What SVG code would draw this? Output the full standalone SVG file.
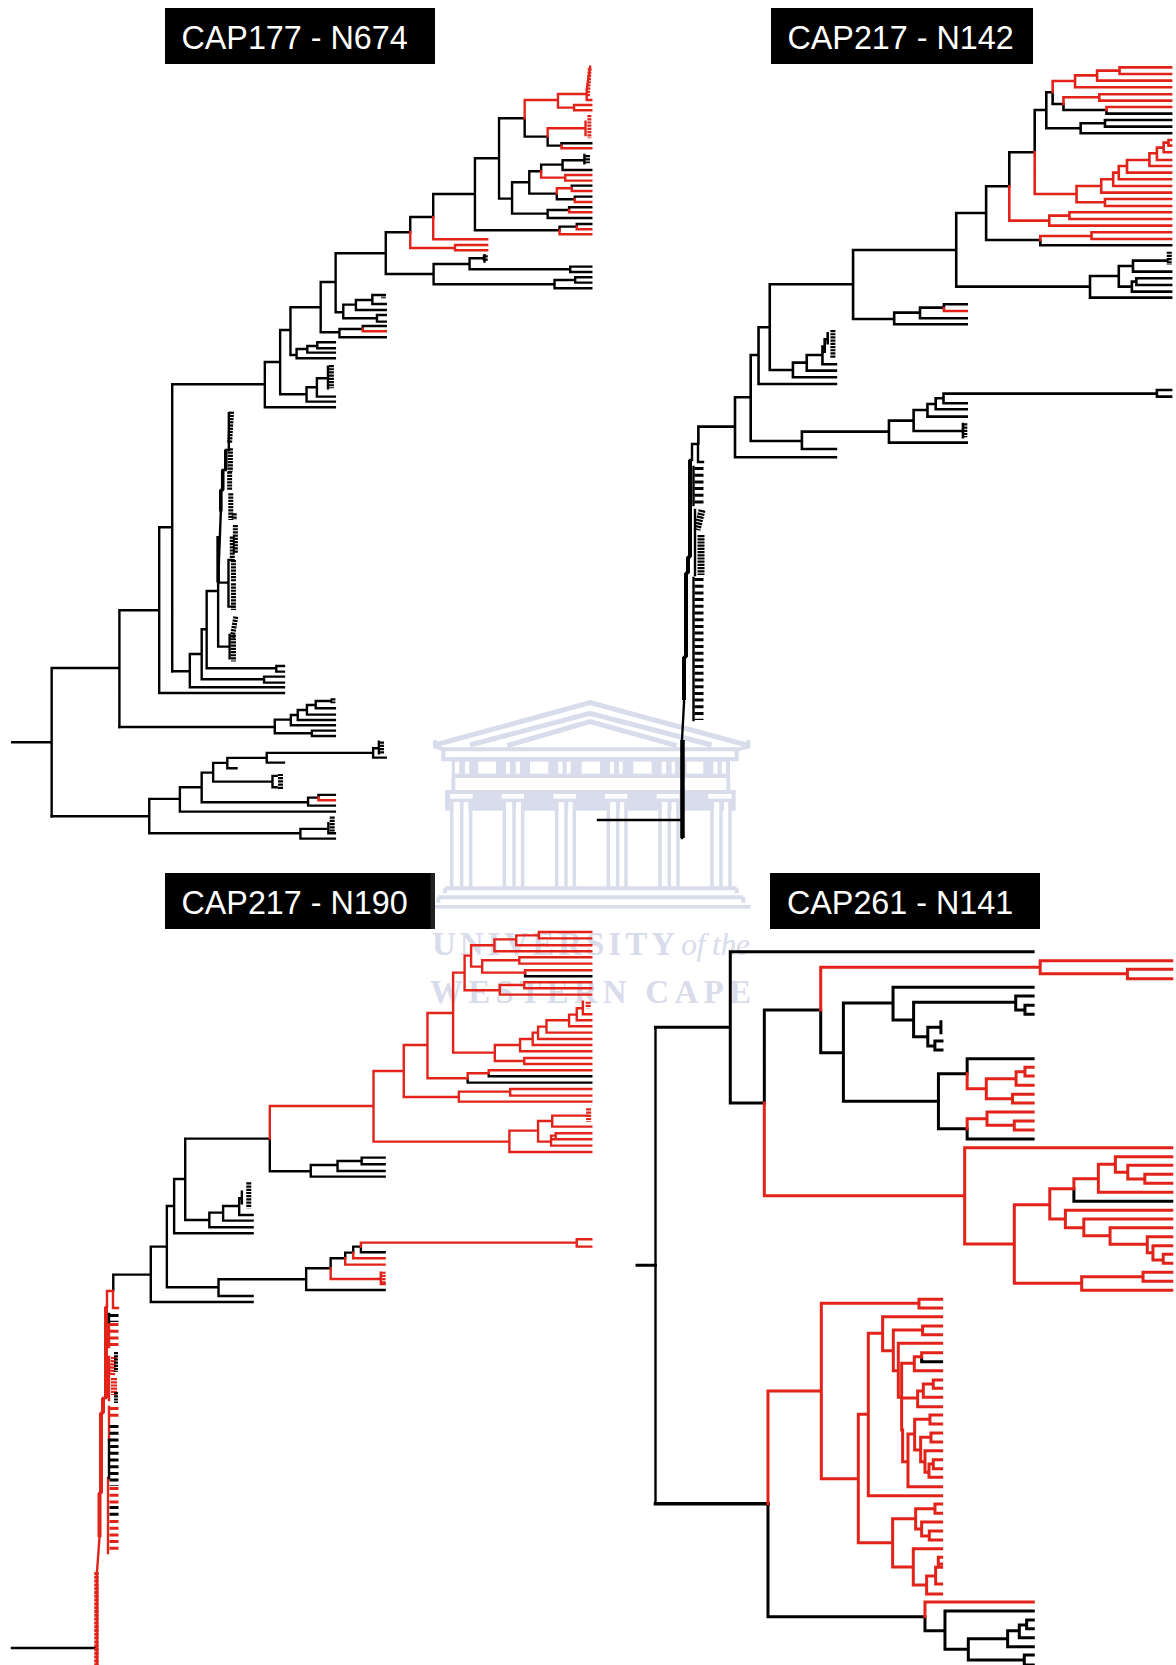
<svg xmlns="http://www.w3.org/2000/svg" width="1176" height="1665" viewBox="0 0 1176 1665">
<style>
path{fill:none;stroke-linecap:square;stroke-linejoin:miter;vector-effect:non-scaling-stroke}
.k{stroke:#000;stroke-width:2.4}
.r{stroke:#e2231a;stroke-width:2.4}
.kb{stroke:#000;stroke-width:3}
.rb{stroke:#e2231a;stroke-width:3}
.kt{stroke:#000;stroke-width:3.6;stroke-linecap:butt}
.rt{stroke:#e2231a;stroke-width:3.6;stroke-linecap:butt}
.kc{stroke:#000;stroke-width:5;stroke-dasharray:2.2 1;stroke-linecap:butt}
.rc{stroke:#e2231a;stroke-width:5;stroke-dasharray:2.2 1;stroke-linecap:butt}
.kd{stroke:#000;stroke-width:9;stroke-dasharray:3 3.7;stroke-linecap:butt}
.rd{stroke:#e2231a;stroke-width:9;stroke-dasharray:3 3.7;stroke-linecap:butt}
.box{fill:#000}
.lab{font-family:"Liberation Sans",Arial,sans-serif;font-size:32.300px;fill:#fff}
.wm{fill:#d9dcea}
.wl{stroke:#d9dcea;stroke-width:4;stroke-linecap:butt}
.wt{font-family:"Liberation Serif","Times New Roman",serif;font-weight:bold;font-size:33px;fill:#d9dcea}
.wi{font-family:"Liberation Serif","Times New Roman",serif;font-style:italic;font-size:32px;fill:#d9dcea}
</style>
<rect width="1176" height="1665" fill="#fff"/>

<g id="watermark">
<g transform="translate(420 680) scale(.3333)">
<path class="wl" style="stroke-width:5" d="M45 195L510 68L980 195M150 195L510 100L875 195M262 197L510 125L770 197"/>
<path class="wl" style="stroke-width:4" d="M45 180V200L70 208H955L985 200V180M70 212V238H950V212"/>
<rect class="wm" x="95" y="232" width="835" height="62"/>
<g fill="#fff">
<rect x="175" y="245" width="53" height="36"/><rect x="330" y="245" width="55" height="36"/><rect x="485" y="245" width="55" height="36"/><rect x="640" y="245" width="55" height="36"/><rect x="800" y="245" width="50" height="36"/>
<rect x="105" y="245" width="13" height="36"/><rect x="135" y="245" width="13" height="36"/><rect x="258" y="245" width="12" height="36"/><rect x="287" y="245" width="13" height="36"/><rect x="415" y="245" width="13" height="36"/><rect x="440" y="245" width="12" height="36"/><rect x="570" y="245" width="12" height="36"/><rect x="597" y="245" width="11" height="36"/><rect x="725" y="245" width="13" height="36"/><rect x="755" y="245" width="10" height="36"/><rect x="880" y="245" width="13" height="36"/><rect x="905" y="245" width="13" height="36"/>
</g>
<path class="wl" d="M100 294V330M925 294V330"/>
<rect class="wm" x="75" y="330" width="872" height="62"/>
<g fill="#fff">
<rect x="90" y="342" width="68" height="14"/><rect x="245" y="342" width="67" height="14"/><rect x="400" y="342" width="68" height="14"/><rect x="555" y="342" width="67" height="14"/><rect x="710" y="342" width="68" height="14"/><rect x="865" y="342" width="70" height="14"/>
<rect x="100" y="366" width="20" height="30"/><rect x="130" y="366" width="15" height="30"/><rect x="258" y="366" width="20" height="30"/><rect x="288" y="366" width="15" height="30"/><rect x="415" y="366" width="20" height="30"/><rect x="445" y="366" width="15" height="30"/><rect x="570" y="366" width="20" height="30"/><rect x="600" y="366" width="15" height="30"/><rect x="725" y="366" width="20" height="30"/><rect x="755" y="366" width="15" height="30"/><rect x="882" y="366" width="20" height="30"/><rect x="912" y="366" width="15" height="30"/>
</g>
<path class="wl" style="stroke-width:3.500" d="M95 360V620M125 360V620M152 360V620M253 360V620M282 360V620M308 360V620M410 360V620M438 360V620M463 360V620M565 360V620M593 360V620M618 360V620M720 360V620M748 360V620M774 360V620M876 360V620M903 360V620M930 360V620"/>
<path class="wl" d="M75 625H950M75 625V640M950 625V640M55 652H970M55 652V668M970 652V668"/>
<path class="wl" style="stroke-width:3.500" d="M40 680H992"/>
</g>
<text class="wt" x="432" y="955" textLength="243" lengthAdjust="spacing">UNIVERSITY</text>
<text class="wi" x="681" y="955" textLength="69" lengthAdjust="spacing">of the</text>
<text class="wt" x="430" y="1003" textLength="321" lengthAdjust="spacing">WESTERN CAPE</text>
</g>

<g id="connectors">
<g id="tree-cap177-n674" transform="scale(.3827 .3333)">
<path class="k" d="M32 2227H135M135 2004V2449M135 2004H312M312 1831V2181M312 1831H416M416 1582V2079H742M416 1582H450M450 1153V2014M450 1153H692M692 1086V1222H875M692 1086H732M732 990V1183H801M801 1162V1205H875M801 1162H828M828 1135V1190H875M828 1135H857M857 1100V1165M732 990H759M759 922V1065H775M775 1047V1075H875M775 1047H803M803 1038V1058H875M803 1038H829M829 1027V1045H875M829 1027H875M759 922H838M838 846V997H887M887 987V1012H1008M887 987H948M948 978V986M948 978H1008M838 846H877M877 760V937H897M897 914V955H985M985 945V965H1008M985 945H1008M897 914H930M930 900V930H1008M930 900H973M973 885V912H1008M973 885H1005M877 760H1008M1008 697V822H1133M1133 792V853H1449M1449 840V865H1545M1449 840H1503M1503 832V848H1545M1503 832H1545M1133 792H1227M1227 775V808H1490M1490 800V816H1545M1490 800H1545M1227 775H1266M1266 766V785M1008 697H1072M1072 651V697M1072 651H1132M1132 582V652M1132 582H1241M1241 475V691H1462M1462 680V691M1462 680H1507M1507 672V680M1507 672H1545M1241 475H1304M1304 355V596H1338M1338 547V641H1431M1431 630V654H1545M1431 630H1487M1487 622V630M1487 622H1545M1338 547H1383M1383 514V581H1455M1455 581V598H1502M1502 590V598M1502 590H1545M1494 557V565M1494 557H1545M1383 514H1414M1414 494V514M1414 494H1470M1470 481V510H1545M1470 481H1527M1527 465V490M1304 355H1371V410H1431V437H1467M1467 430V437M1467 430H1545"/>
<path class="r" d="M948 986V994H1008M1072 697V744H1189M1189 735V751H1273M1189 735H1273M1132 652V718H1273M1462 691V703H1545M1507 680V688H1545M1487 630V637H1545M1455 565V581M1455 565H1494M1494 565V573H1545M1502 598V606H1545M1414 514V533H1477M1477 525V542H1545M1477 525H1545M1467 437V445H1545M1371 355V300H1458M1458 282V323H1500M1500 315V331H1545M1500 315H1545M1458 282H1533M1533 270V300H1545M1533 270L1542 200M1431 410V385H1530M1530 365V405"/>
<path class="rc" style="stroke-width:4" d="M1541 205L1536 290M1540 345V415"/>
<path class="k" d="M450 2014H496M496 1962V2062H742M496 1962H527M527 1888V2038H690M690 2030V2048H742M690 2030H742M527 1888H540M540 1773V2005H722M722 1998V2015H742M722 1998H742M540 1773H570M570 1748V1940H600M600 1905V1975M570 1748H597M597 1680V1820H612M597 1680H605M570 1748L577 1535V1470H582V1410H590V1350H598V1240M135 2449H390M390 2397V2500H785M785 2487V2516H875M785 2487H858M858 2470V2500H875M390 2397H470M470 2362V2435H875M470 2362H527M527 2318V2407H805M805 2393V2417H875M805 2393H832M832 2385V2393M832 2385H875M527 2318H557M557 2289V2345H712M712 2328V2362H723M712 2328H723M557 2289H594M594 2274V2305H618M594 2274H697M697 2259V2288H742M697 2259H975M975 2245V2273H1008M975 2245H990M990 2225V2260M312 2181H718M718 2159V2200H815M815 2192V2208H875M815 2192H875M718 2159H760M760 2145V2176H875M760 2145H778M778 2130V2160H875M778 2130H802M802 2115V2144H875M802 2115H825M825 2103V2125H875M825 2103H865"/>
<path class="r" d="M832 2393V2401H875"/>
<path class="kt" d="M570 1608V1748M577 1470V1535M582 1410V1470M590 1350V1410"/>
<path class="kc" d="M605 1235L600 1330M602 1345V1415M600 1415V1470M603 1480V1560M612 1540V1560M615 1575V1660M607 1610V1680M610 1680V1745M610 1750V1830M616 1850L606 1920M610 1905V1985M866 1095V1165M733 2322V2370M868 2450V2500M997 2225V2262M870 2095V2110M1268 766V785M1535 465V490M1002 882V895"/>
</g>

<g id="tree-cap217-n142" transform="translate(590 0) scale(.3737 .3333)">
<path class="k" style="stroke-width:2.600" d="M290 1280V1330M290 1280H388M388 1192V1372H658M388 1192H430M430 1065V1323H567M567 1295V1347H658M567 1295H800M800 1262V1328H1008M800 1262H866M866 1230V1293H998M998 1272V1312M866 1230H903M903 1212V1250H1008M903 1212H925M925 1195V1228H1008M925 1195H946M946 1181V1210H1008M946 1181H1517M1517 1170V1190H1555M1517 1170H1555M430 1065H451M451 982V1152H658M451 982H481M481 853V1110H543M543 1088V1132H658M543 1088H580M580 1065V1112H658M580 1065H622M622 1040V1093H658M622 1040H628M628 1018V1055M628 1018H636M636 1000V1030M481 853H704M704 750V957H814M814 938V973H1008M814 938H883M883 923V955H1008M883 923H947M947 913V925M947 913H1008M704 750H980M980 639V860H1338M1338 828V893H1555M1338 828H1415M1415 798V860H1450M1450 845V875H1555M1450 845H1462M1462 835V855H1555M1462 835H1555M1415 798H1453M1453 782V815H1555M1453 782H1545M980 639H1060M1060 559V720H1205M1205 720V736H1555M1060 559H1122M1122 457V559M1122 457H1190M1190 330V457M1190 330H1221M1221 277V385H1313M1313 370V400H1555M1313 370H1378M1378 360V380H1555M1378 360H1555M1221 277H1238V312H1267V330H1382M1382 330V341H1555"/>
<path class="r" style="stroke-width:2.600" d="M947 925V933H1008M1205 720V708H1342M1342 697V717H1555M1342 697H1555M1122 559V662H1229M1229 647V677H1555M1229 647H1283M1283 637V657H1555M1283 637H1555M1190 457V582H1302M1302 558V607H1378M1378 597V618H1555M1378 597H1555M1302 558H1368M1368 538V578H1555M1368 538H1400M1400 518V558H1555M1400 518H1415M1415 498V538H1555M1415 498H1437M1437 480V518H1555M1437 480H1497M1497 460V498H1555M1497 460H1517M1517 443V480H1555M1517 443H1535M1535 428V457H1555M1535 428H1548M1548 420V437H1555M1548 420H1555M1382 330V321H1555M1267 312V292H1363M1363 283V302H1555M1363 283H1555M1238 277V243H1298M1298 226V262H1555M1298 226H1357M1357 212V242H1555M1357 212H1417M1417 202V222H1555M1417 202H1555"/>
<path class="kc" d="M650 990V1075M1550 755V795M1003 1270V1312"/>
</g>
<g id="spine-cap217-n142">
<path class="k" d="M598 820H681M692 444H698M698 444V462H703M692 444V460L690 460V557L688 557V573L686 573V657L684 657V703L682 740V838"/>
<path class="kt" style="stroke-width:4" d="M690 460V557M688 557V573M686 573V657M684 657V700"/>
<path class="kt" style="stroke-width:4.500" d="M682.500 740V838"/>
<path class="kd" d="M699 467V505M699 578V720"/>
<path class="kc" style="stroke-width:7" d="M702 510L697 530M701 535V575"/>
<path class="k" d="M693.500 467V505M695 510V575M693.500 578V720"/>
</g>

<g id="tree-cap217-n190" transform="translate(0 860) scale(.3827 .3333)">
<path class="k" d="M296 1244V1290M296 1244H394M394 1160V1326H660M394 1160H436M436 1038V1282H571M571 1258V1308H660M571 1258H800M800 1225V1290H1005M800 1225H864M864 1195V1225M864 1195H902M902 1178V1195M902 1178H923M923 1160V1178M923 1160H943M943 1160V1177H1005M436 1038H455M455 957V1120H660M455 957H484M484 836V1080H547M547 1058V1102H660M547 1058H583M583 1038V1082H660M583 1038H625M625 1015V1065H660M625 1015H632M632 995V1030M484 836H705V934H812M812 915V950H1005M812 915H882M882 903V933H1005M882 903H945M945 893V913H1005M945 893H1005M1222 655V668H1545M1277 640V649H1545M1372 340V349H1545"/>
<path class="r" d="M864 1225V1257H995M995 1238V1272H1005M902 1195V1214H1005M923 1178V1195H1005M943 1148V1160M943 1148H1507M1507 1138V1160H1545M1507 1138H1545M705 836V738H976M976 633V845H1331M1331 812V876H1545M1331 812H1406M1406 783V845H1440M1440 827V857H1545M1440 838H1545M1440 827H1452M1452 820V838M1452 820H1545M1406 783H1443M1443 767V800H1545M1443 767H1535M976 633H1055M1055 555V711H1199M1199 695V725H1545M1199 695H1333M1333 687V707H1545M1333 687H1545M1055 555H1117M1117 459V655H1222M1222 640V655M1222 640H1277M1277 631V640M1277 631H1545M1117 459H1184M1184 338V578H1293M1293 555V603H1370M1370 594V612H1545M1370 594H1545M1293 555H1359M1359 537V574H1545M1359 537H1392M1392 518V555H1545M1392 518H1406M1406 500V537H1545M1406 500H1428M1428 481V518H1545M1428 481H1487M1487 464V499H1545M1487 464H1507M1507 445V481H1545M1507 445H1523M1523 425V463H1545M1184 338H1214M1214 287V391H1306M1306 375V404H1545M1306 375H1370M1370 367V385H1545M1370 367H1545M1214 287H1231M1231 256V320H1260M1260 301V338H1372M1372 331V340M1372 331H1545M1260 301H1357M1357 292V311H1545M1357 292H1545M1231 256H1292M1292 238V274H1545M1292 238H1349M1349 226V256H1545M1349 226H1408M1408 216V235H1545M1408 216H1545"/>
<path class="rc" d="M1538 745V785M1001 1235V1272M1537 425V445"/>
<path class="kc" d="M650 967V1045"/>
</g>
<g id="spine-cap217-n190">
<path class="k" d="M12 1648H95"/>
<path class="r" d="M107 1291H113V1308H118M107 1291V1307H106V1398H103V1413H101V1493H99.500V1537L97 1572V1665"/>
<path class="rt" style="stroke-width:4" d="M106 1307V1398M103 1398V1413M101 1413V1493M99.500 1493V1537"/>
<path class="rc" style="stroke-width:4.500;stroke-dasharray:3 .8" d="M96.500 1572V1665"/>
<path class="r" d="M109 1323V1347M109 1357V1400M109 1407V1440M108 1478V1553"/>
<path class="k" d="M109 1314V1322M109 1440V1478"/>
<path class="rd" d="M114 1323V1347M114 1407V1417M114 1487V1504M114 1520V1553"/>
<path class="rc" style="stroke-width:6" d="M114 1357L112 1375M114 1378V1395"/>
<path class="kd" d="M114 1314V1322M114 1425V1486M114 1506V1519"/>
<path class="kc" style="stroke-width:4" d="M116 1352V1372M116 1392V1403"/>
</g>

<g id="tree-cap261-n141-upper" transform="translate(620 930) scale(.3546 .3333)">
<path class="kb" d="M48 1006H100M100 292H311M311 65V519M311 65H1165M311 519H407M407 240V519M407 240H566V368H630M630 219V514M630 219H770M770 172V270M770 172H1165M770 270H828M828 217V320M828 217H1116M1116 198V240M1116 198H1165M1116 240H1142M1142 226V253H1165M1142 226H1165M828 320H868M868 292V348M868 292H905M905 275V308M868 348H888M888 333V360H908M888 333H908M630 514H898M898 431V596M898 431H979M979 386V431M979 386H1165M898 596H979M979 596V627H1165M1280 776V814H1556"/>
<path class="rb" d="M979 431V476H1033M1033 446V506M1033 446H1117M1117 425V466H1165M1117 425H1142M1142 412V438H1165M1142 412H1165M1033 506H1107M1107 493V519H1165M1107 493H1165M979 566V596M979 566H1035M1035 546V586M1035 546H1165M1035 586H1112M1112 573V600H1165M1112 573H1165M566 240V112H1185M1185 92V131M1185 92H1556M1185 131H1431M1431 118V146H1556M1431 118H1556M407 519V797H972M972 653V942M972 653H1556M972 942H1112M1112 824V1060M1112 824H1212M1212 776V867M1212 776H1280M1280 746V776M1280 746H1349M1349 703V787H1556M1349 703H1397M1397 680V727M1397 680H1556M1397 727H1432M1432 706V747M1432 706H1556M1432 747H1480M1480 733V760H1556M1480 733H1556M1212 867H1256M1256 841V893M1256 841H1556M1256 893H1308M1308 867V917M1308 867H1556M1308 917H1382M1382 893V943M1382 893H1556M1382 943H1487M1487 920V968M1487 920H1556M1487 968H1503M1503 947V990M1503 947H1556M1503 990H1532M1532 973V1000H1556M1532 973H1556M1112 1060H1302M1302 1040V1081H1556M1302 1040H1475M1475 1027V1054H1556M1475 1027H1556"/>
</g>
<path class="k" style="stroke-width:2.400" d="M655.500 1027.500V1503.500"/>
<path class="k" style="stroke-width:3.600" d="M655.500 1503.700H768"/>
<g id="tree-cap261-n141-lower" transform="translate(620 1280) scale(.3333)">
<path class="kb" d="M444 671V1010H915M905 232V245H965M915 1010V1052H975M975 993V1108M975 993H1240M975 1108H1045M1045 1076V1140M1045 1076H1163M1163 1052V1100H1240M1163 1052H1198M1198 1035V1073H1240M1198 1035H1220M1220 1020V1046H1240M1220 1020H1240M1045 1140H1213M1213 1125V1155H1240M1213 1125H1240"/>
<path class="rb" d="M444 333V671M444 333H604M604 70V596M604 70H897M897 58V84H965M897 58H965M604 596H715M715 403V788M715 403H745M745 160V647H965M745 160H788M788 110V212M788 110H965M788 212H820M820 150V272M820 150H908M908 138V164H965M908 138H965M820 272H835M835 190V352M835 190H965M835 352H845M845 250V450M845 250H883M883 230V272H965M883 230H905M905 218V232M905 218H965M845 354H893M893 333V380H965M893 333H910M910 312V352H965M910 312H940M940 300V325H965M940 300H965M848 450V545H864M864 462V620H965M864 462H884M884 418V510M884 418H930M930 405V432H965M930 405H965M884 510H902M902 472V545M902 472H933M933 459V486H965M933 459H965M902 545H915M915 512V577M915 512H965M915 577H927M927 552V592H965M927 552H940M940 539V566H965M940 539H965M715 788H818M818 716V861M818 716H887M887 686V747M887 686H945M945 672V700H965M945 672H965M887 747H905M905 726V768M905 726H965M905 768H928M928 753V780H965M928 753H965M818 861H880M880 806V915M880 806H965M880 915H920M920 888V942H965M920 888H947M947 865V912H965M947 862H965M955 840V862M955 832H965M955 852H965M915 966V1010M915 966H1240"/>
</g>
</g>

<g id="label-cap177-n674"><rect class="box" x="165" y="8" width="270" height="56"/><text class="lab" x="181.500" y="49">CAP177 - N674</text></g>
<g id="label-cap217-n142"><rect class="box" x="771" y="8" width="262" height="56"/><text class="lab" x="787.500" y="49">CAP217 - N142</text></g>
<g id="label-cap217-n190"><rect class="box" x="165" y="873" width="270" height="56"/><rect x="430.500" y="873" width="4.500" height="56" fill="#222"/><text class="lab" x="181.500" y="914">CAP217 - N190</text></g>
<g id="label-cap261-n141"><rect class="box" x="770" y="873" width="270" height="56"/><text class="lab" x="787" y="914">CAP261 - N141</text></g>
</svg>
